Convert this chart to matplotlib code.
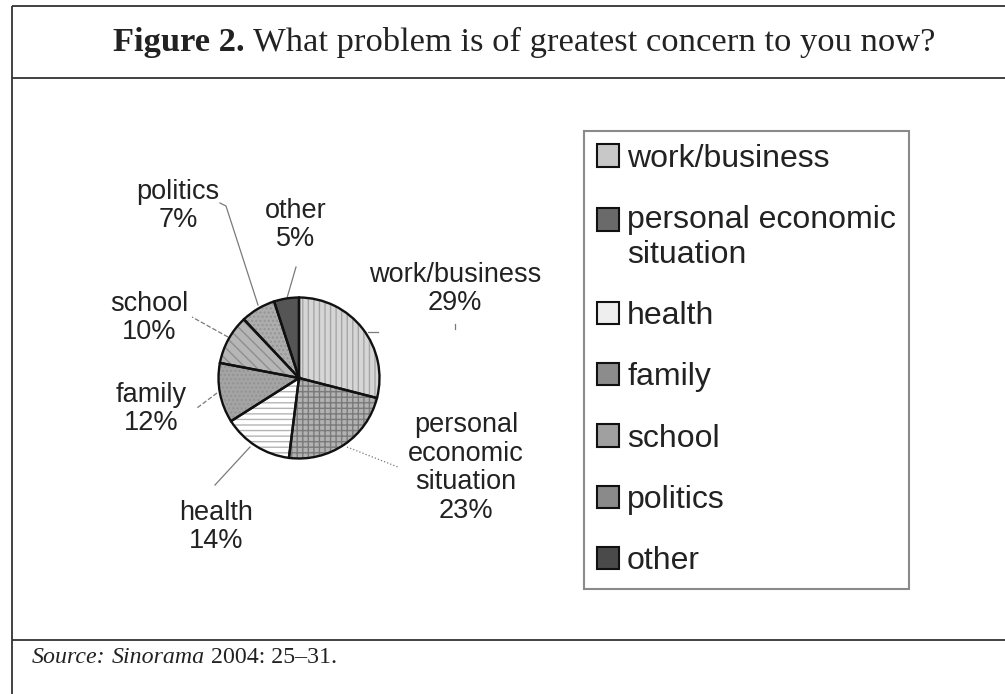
import textwrap
import matplotlib
matplotlib.use("Agg")
import matplotlib.pyplot as plt
from matplotlib.patches import Patch, Rectangle
from matplotlib.legend_handler import HandlerPatch

# Survey answers: share of respondents naming each problem (%)
categories = ["work/business", "personal economic situation", "health",
              "family", "school", "politics", "other"]
shares = [29, 23, 14, 12, 10, 7, 5]

title_bold = "Figure 2."
title_rest = " What problem is of greatest concern to you now?"
source_parts = [("Source:", "italic"), (" ", "normal"),
                ("Sinorama", "italic"), (" 2004: 25\u201331.", "normal")]

# Grey-scale fills and hatch patterns for the wedges
face_colors = ["#d6d6d6", "#b2b2b2", "#ffffff", "#a4a4a4", "#b6b6b6", "#adadad", "#555555"]
hatch_colors = ["#a6a6a6", "#7a7a7a", "#b4b4b4", "#939393", "#8e8e8e", "#959595", "#555555"]
hatches = ["|||", "+++", "---", "....", "\\\\\\", "....", ""]
swatch_colors = ["#c8c8c8", "#6a6a6a", "#eeeeee", "#8c8c8c", "#a0a0a0", "#8a8a8a", "#4a4a4a"]

W, H = 1005, 694
TXT = "#222222"
SANS = "Liberation Sans"
SERIF = "Liberation Serif"
LEG_SIZE = 23

plt.rcParams["hatch.linewidth"] = 1.0

fig = plt.figure(figsize=(W / 100, H / 100), dpi=100)
bg = fig.add_axes([0, 0, 1, 1])
bg.set_xlim(0, W)
bg.set_ylim(H, 0)
bg.axis("off")

# Panel frame: top, left, title divider, footer divider
frame_kw = dict(color="#333333", linewidth=1.3, solid_capstyle="butt")
bg.plot([12, W], [6, 6], **frame_kw)
bg.plot([12, 12], [6, H], **frame_kw)
bg.plot([12, W], [78, 78], **frame_kw)
bg.plot([12, W], [640, 640], **frame_kw)

# Title (bold lead-in followed by the question)
t1 = bg.text(113, 57.5, title_bold, family=SERIF, weight="bold", size=24.8,
             color=TXT, va="bottom", ha="left")
bg.annotate(title_rest, xy=(1, 0), xycoords=t1, family=SERIF, size=24.8,
            color=TXT, va="bottom", ha="left")

# Source line with italic parts
prev = None
for text, style in source_parts:
    if prev is None:
        prev = bg.text(32, 668, text, family=SERIF, style=style, size=17.2,
                       color=TXT, va="bottom", ha="left")
    else:
        prev = bg.annotate(text, xy=(1, 0), xycoords=prev, family=SERIF,
                           style=style, size=17.2, color=TXT,
                           va="bottom", ha="left")

# Pie
cx, cy, r = 299, 378, 80.5
pad = 1.06
pax = fig.add_axes([(cx - r * pad) / W, (H - cy - r * pad) / H,
                    2 * r * pad / W, 2 * r * pad / H])
wedges, _ = pax.pie(shares, startangle=90, counterclock=False, radius=1,
                    colors=face_colors, wedgeprops=dict(linewidth=0))
for w, hc, h in zip(wedges, hatch_colors, hatches):
    w.set_edgecolor(hc)
    w.set_hatch(h)
    w.set_linewidth(0)
pax.pie(shares, startangle=90, counterclock=False, radius=1,
        wedgeprops=dict(fill=False, edgecolor="#111111", linewidth=1.7))
pax.set_xlim(-pad, pad)
pax.set_ylim(-pad, pad)
pax.axis("off")

# Slice labels
label_pos = [(455, 289), (466, 468), (216, 527), (151, 409),
             (149, 318), (178, 206), (296, 225)]
for cat, v, (x, y) in zip(categories, shares, label_pos):
    name = textwrap.fill(cat, 10, break_long_words=False)
    bg.text(x, y, f"{name}\n{v}%", ha="center", va="center", family=SANS,
            size=19.5, color=TXT, linespacing=1.12)

# Leader lines
lead_kw = dict(color="#7a7a7a", linewidth=0.9)
leaders = [
    ([368, 378], [332, 332], "-"),
    ([347, 398], [447, 467], ":"),
    ([250, 215], [447, 485], "-"),
    ([217, 197], [393, 408], "--"),
    ([228, 192], [337, 317], "--"),
    ([258, 226, 220], [305, 206, 203], "-"),
    ([287, 296], [298, 267], "-"),
]
for xs, ys, ls in leaders:
    bg.plot(xs, ys, linestyle=ls, **lead_kw)
bg.plot([455, 455], [324, 329], **lead_kw)


# Legend: swatch of a wrapped entry sits level with its first line
def first_line_swatch(lines):
    def make(legend, orig_handle, xdescent, ydescent, width, height, fontsize):
        shift = 0.5 * (lines - 1) * fontsize * 1.15
        return Rectangle((-xdescent, -ydescent + shift), width, height)
    return make


legend_labels = [textwrap.fill(c, 18, break_long_words=False) for c in categories]
handles = [Patch(facecolor=c, edgecolor="#111111", linewidth=1.5) for c in swatch_colors]
handler_map = {h: HandlerPatch(patch_func=first_line_swatch(lab.count("\n") + 1))
               for h, lab in zip(handles, legend_labels)}
leg = bg.legend(handles, legend_labels, handler_map=handler_map, loc="upper left",
                bbox_to_anchor=(584, 131), bbox_transform=bg.transData,
                borderaxespad=0, frameon=True, fancybox=False,
                edgecolor="#8a8a8a", framealpha=1,
                prop=dict(family=SANS, size=LEG_SIZE), labelcolor=TXT,
                handlelength=0.7, handleheight=0.7, handletextpad=0.25,
                labelspacing=0.98, borderpad=0.4)
leg.get_frame().set_linewidth(1.5)

fig.savefig("out.png", dpi=100)
